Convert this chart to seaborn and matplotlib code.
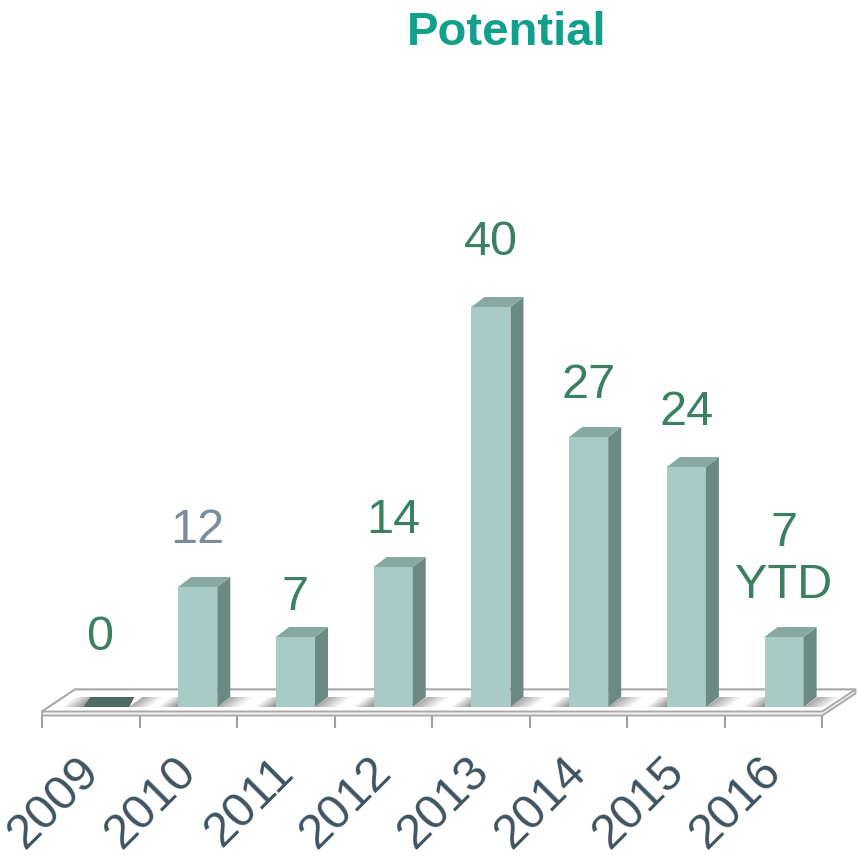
import matplotlib
matplotlib.use("Agg")
import matplotlib.pyplot as plt
import seaborn as sns
import numpy as np
from matplotlib.patches import Polygon

sns.set_theme(style="white")
plt.rcParams["font.family"] = ["Liberation Sans", "DejaVu Sans"]

# 数据
years = ["2009", "2010", "2011", "2012", "2013", "2014", "2015", "2016"]
values = [0, 12, 7, 14, 40, 27, 24, 7]
value_labels = ["0", "12", "7", "14", "40", "27", "24", "7\nYTD"]
label_colors = ["#3b8060", "#7a8d9b", "#3b8060", "#3b8060",
                "#3b8060", "#3b8060", "#3b8060", "#3b8060"]
# 标签与柱顶的间距（数据单位）
label_pad = [5.7, 4.4, 2.7, 3.4, 5.2, 3.9, 4.2, 3.9]

front_color = "#a8cbc5"
side_color = "#6b8a83"
top_color = "#88a9a1"
tick_color = "#3f5461"

fig = plt.figure(figsize=(8.57, 8.57), dpi=100)
ax = fig.add_axes([0, 0, 1, 1])

sns.barplot(x=years, y=values, color=front_color, width=0.4,
            saturation=1, linewidth=0, ax=ax, zorder=3)
bars = [p for p in ax.patches if p.get_zorder() == 3]

# 伪3D深度（数据单位）
dx, dy = 0.133, 1.0

# 地板
x_fl, x_fr = -0.594, 7.39
x_bl, x_br = -0.256, 7.73
y_front, y_back, y_low = -0.45, 1.75, -0.85
ax.add_patch(Polygon([(x_fl, y_low), (x_fr, y_low), (x_br, y_back - 0.4), (x_br, y_back),
                      (x_bl, y_back), (x_fl, y_front)],
                     closed=True, facecolor="#f2f2f2", edgecolor="#aaaaaa", lw=1.4, zorder=1))
ax.add_patch(Polygon([(x_fl, y_front), (x_fr, y_front), (x_br, y_back), (x_bl, y_back)],
                     closed=True, facecolor="white", edgecolor="#aaaaaa", lw=1.4, zorder=1))

# 刻度线
step = (x_fr - x_fl) / len(years)
for k in range(len(years) + 1):
    xk = x_fl + k * step
    ax.plot([xk, xk], [y_low, -2.1], color="#a0a0a0", lw=1.5, zorder=1,
            solid_capstyle="butt")


def shadow(x_start, width, a0, a1):
    """沿斜面方向的渐变阴影"""
    xs = np.linspace(x_start, x_start + width + dx, 80)
    ys = np.linspace(0, dy, 20)
    X, Y = np.meshgrid(xs, ys)
    u = (X - x_start - Y / dy * dx) / width
    inside = (u >= 0) & (u <= 1)
    alpha = np.where(inside, a0 + (a1 - a0) * np.clip(u, 0, 1), 0)
    img = np.zeros(X.shape + (4,))
    img[..., :3] = 0.3
    img[..., 3] = alpha
    ax.imshow(img, extent=[xs[0], xs[-1], 0, dy], origin="lower",
              aspect="auto", interpolation="bilinear", zorder=2)


# 阴影、侧面、顶面
for patch in bars:
    x0 = patch.get_x()
    w = patch.get_width()
    h = patch.get_height()
    if h <= 0:
        shadow(x0 - 0.2, 0.23, 0.0, 0.6)
        shadow(x0 + w + 0.1, 0.22, 0.5, 0.0)
        ax.add_patch(Polygon([(x0 + 0.03, 0), (x0 + w + 0.1, 0),
                              (x0 + w + 0.15, dy), (x0 + 0.1, dy)],
                             closed=True, facecolor="#4f6a63", lw=0, zorder=3))
        continue
    shadow(x0 - 0.22, 0.22, 0.0, 0.65)
    shadow(x0 + w, 0.24, 0.5, 0.0)
    ax.add_patch(Polygon([(x0 + w, 0), (x0 + w + dx, dy), (x0 + w + dx, h + dy), (x0 + w, h)],
                         closed=True, facecolor=side_color, lw=0, zorder=3))
    ax.add_patch(Polygon([(x0, h), (x0 + w, h), (x0 + w + dx, h + dy), (x0 + dx, h + dy)],
                         closed=True, facecolor=top_color, lw=0, zorder=3))

# 数值标签
for i, (v, lab, c, pad) in enumerate(zip(values, value_labels, label_colors, label_pad)):
    ax.text(i, v + pad, lab, ha="center", va="baseline", fontsize=35,
            color=c, linespacing=1.2, zorder=5)

# 年份标签（旋转45度）
for k, yr in enumerate(years):
    xc = x_fl + (k + 0.5) * step - 0.15
    ax.text(xc, -4.2, yr, rotation=45, rotation_mode="anchor",
            ha="right", va="top", fontsize=35, color=tick_color, zorder=5)

fig.text(507 / 857, 1 - 45 / 857, "Potential", ha="center", va="baseline",
         fontsize=34, fontweight="bold", color="#13a08b")

ax.set_xlim(-1.0235, 7.746)
ax.set_ylim(-15, 70.7)
ax.axis("off")

fig.savefig("out.png", dpi=100, facecolor="white")
